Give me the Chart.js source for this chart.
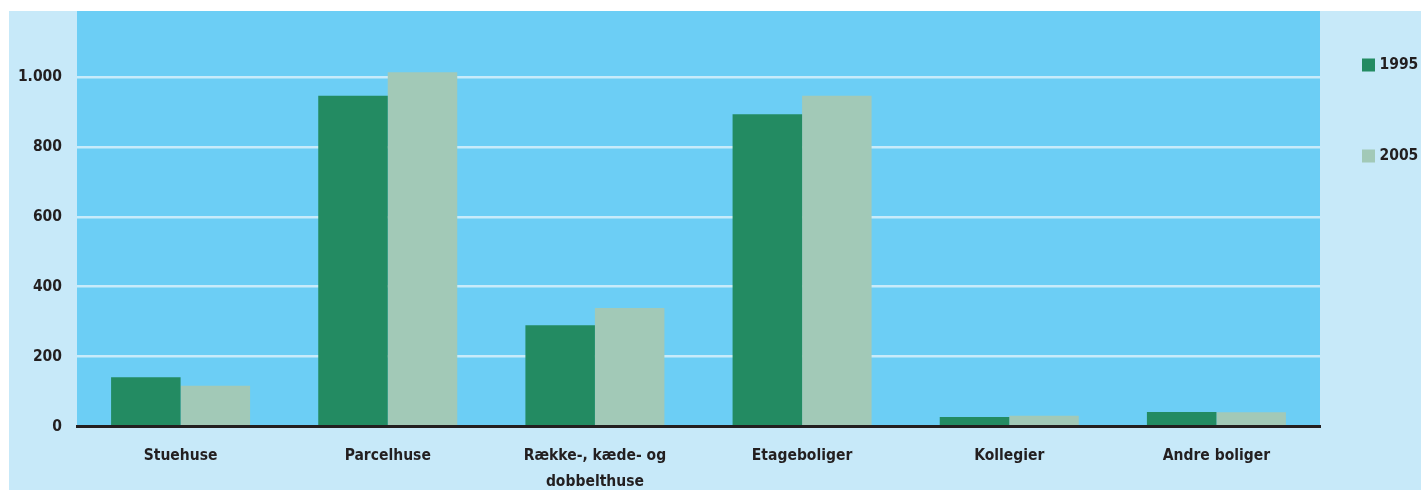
<!DOCTYPE html>
<html>
<head>
<meta charset="utf-8">
<script src="https://cdn.jsdelivr.net/npm/chart.js@4.4.1/dist/chart.umd.min.js"></script>
<style>
    body { margin: 0; background: #fff; }
    #wrap { position: absolute; left: 9px; top: 11px; width: 1412px; height: 479px; background: #c7e9f9; }
</style>
</head>
<body>
<div id="wrap"><canvas id="boligChart" width="1412" height="479"></canvas></div>
<script>
//chart data
const categories = ['Stuehuse', 'Parcelhuse', ['Række-, kæde- og', 'dobbelthuse'], 'Etageboliger', 'Kollegier', 'Andre boliger'];
const seriesNames = ['1995', '2005'];
const values1995 = [141, 946, 290, 893, 28, 42];
const values2005 = [117, 1013, 339, 946, 31, 41];
const yTicks = [0, 200, 400, 600, 800, 1000];

const FONT = '"Liberation Sans Narrow", "DejaVu Sans Condensed", "Open Sans", sans-serif';
const FONT_SIZE = 15.5;
const TEXT_COLOR = '#231f20';

//danish thousands separator
function formatNumber(v) {
    return String(v).replace(/\B(?=(\d{3})+(?!\d))/g, '.');
}

//paints the blue plot area behind the bars
const plotBackground = {
    id: 'plotBackground',
    beforeDraw(chart) {
        const { ctx, chartArea } = chart;
        ctx.save();
        ctx.fillStyle = '#6ccef5';
        ctx.fillRect(chartArea.left, chartArea.top, chartArea.right - chartArea.left, chartArea.bottom - chartArea.top);
        ctx.restore();
    }
};

//legend in the right-hand panel, one item per dataset
const sideLegend = {
    id: 'sideLegend',
    afterDraw(chart) {
        const { ctx } = chart;
        const x = chart.chartArea.right + 42;
        const rows = [54, 145];
        ctx.save();
        ctx.font = 'bold ' + FONT_SIZE + 'px ' + FONT;
        ctx.textBaseline = 'middle';
        chart.data.datasets.forEach((ds, i) => {
            const y = rows[i];
            ctx.fillStyle = ds.backgroundColor;
            ctx.fillRect(x, y - 6.5, 13, 13);
            ctx.fillStyle = TEXT_COLOR;
            ctx.fillText(ds.label, x + 17.5, y);
        });
        ctx.restore();
    }
};

const ctx = document.getElementById('boligChart').getContext('2d');

new Chart(ctx, {
    type: 'bar',
    data: {
        labels: categories,
        datasets: [{
            label: seriesNames[0],
            data: values1995,
            backgroundColor: '#238b62',
            categoryPercentage: 0.671,
            barPercentage: 1.0
        }, {
            label: seriesNames[1],
            data: values2005,
            backgroundColor: '#a2c9b7',
            categoryPercentage: 0.671,
            barPercentage: 1.0
        }]
    },
    options: {
        responsive: false,
        animation: false,
        layout: {
            padding: { left: 0, right: 101, top: 0, bottom: 0 }
        },
        scales: {
            x: {
                grid: { display: false, drawTicks: false },
                border: { display: true, color: '#231f20', width: 3, z: 1 },
                ticks: {
                    color: TEXT_COLOR,
                    padding: 16,
                    maxRotation: 0,
                    autoSkip: false,
                    font: { family: FONT, size: FONT_SIZE, weight: 'bold', lineHeight: 1.68 }
                },
                afterFit: scale => { scale.height = 63.3; }
            },
            y: {
                min: 0,
                max: 1188,
                afterBuildTicks: axis => {
                    axis.ticks = yTicks.map(v => ({ value: v }));
                },
                grid: {
                    drawTicks: false,
                    lineWidth: 2.5,
                    color: c => (c.tick && c.tick.value === 0) ? 'rgba(0,0,0,0)' : '#c8ebfa'
                },
                border: { display: false },
                ticks: {
                    color: TEXT_COLOR,
                    padding: 15,
                    font: { family: FONT, size: FONT_SIZE, weight: 'bold' },
                    callback: v => formatNumber(v)
                },
                afterFit: scale => {
                    scale.width = 68;
                    scale.paddingTop = 0;
                    scale.paddingBottom = 0;
                }
            }
        },
        plugins: {
            legend: { display: false },
            tooltip: { enabled: false }
        }
    },
    plugins: [plotBackground, sideLegend]
});
</script>
</body>
</html>
